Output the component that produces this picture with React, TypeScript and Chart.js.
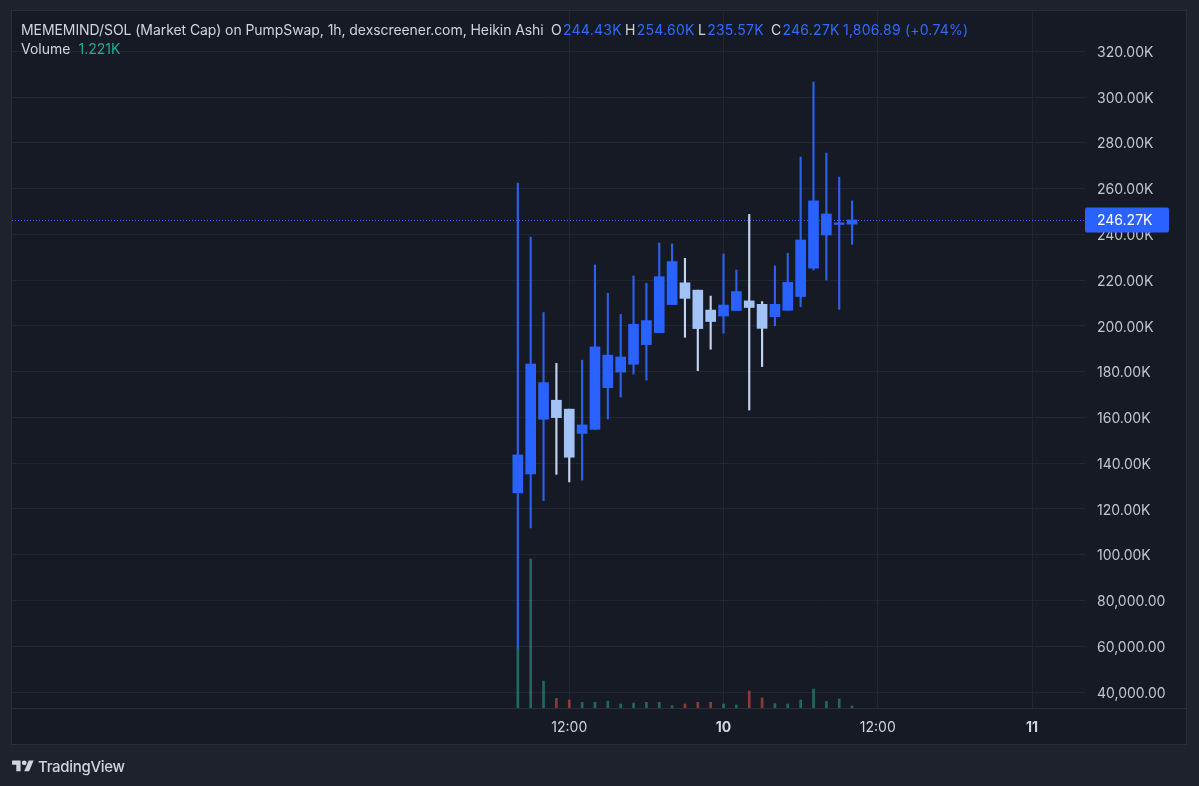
import React, { useEffect, useRef } from 'react';
import { Chart, registerables } from 'chart.js';

Chart.register(...registerables);

// ---- data (Heikin Ashi candles, 1h, market cap in K) ----
const hourIndex = [0, 1, 2, 3, 4, 5, 6, 7, 8, 9, 10, 11, 12, 13, 14, 15, 16, 17, 18, 19, 20, 21, 22, 23, 24, 25, 26];
const openK = [127.0, 135.3, 159.2, 167.5, 163.6, 153.0, 154.8, 173.0, 179.8, 183.2, 191.8, 197.0, 209.3, 218.8, 215.6, 206.9, 204.3, 206.7, 210.9, 209.4, 204.0, 206.8, 212.8, 225.2, 239.7, 244.3, 244.43];
const highK = [262.4, 238.8, 205.8, 183.6, 163.6, 185.0, 226.6, 214.2, 205.0, 221.8, 218.6, 236.2, 235.8, 229.5, 215.6, 213.0, 231.4, 224.4, 248.7, 210.6, 226.2, 231.7, 273.8, 306.6, 275.5, 265.0, 254.6];
const lowK = [59.2, 111.7, 123.6, 135.1, 131.8, 132.6, 154.8, 159.3, 168.9, 178.9, 176.3, 197.0, 209.3, 195.0, 180.4, 189.8, 196.8, 206.7, 163.2, 182.2, 200.0, 206.8, 208.4, 224.4, 220.0, 207.2, 235.57];
const closeK = [143.6, 183.3, 175.2, 159.9, 142.6, 156.7, 190.8, 187.2, 186.4, 200.7, 202.3, 221.5, 228.1, 212.0, 198.8, 201.9, 209.1, 215.0, 208.0, 198.9, 209.4, 219.0, 237.5, 254.6, 248.9, 245.0, 246.27];
const volume = [36000, 89400, 16200, 5800, 4800, 3400, 3400, 4200, 2400, 3000, 3400, 3400, 1400, 2400, 3400, 3400, 2400, 1800, 10200, 6000, 2600, 2400, 4800, 11400, 4000, 5400, 1221];

const timeTickValues = [4, 16, 28, 40];
const timeTickLabels = ['12:00', '10', '12:00', '11'];
const timeTickBold = [false, true, false, true];
const priceTickValues = [40000, 60000, 80000, 100000, 120000, 140000, 160000, 180000, 200000, 220000, 240000, 260000, 280000, 300000, 320000];

const titleText = 'MEMEMIND/SOL (Market Cap) on PumpSwap, 1h, dexscreener.com, Heikin Ashi';
const ohlcLabels = ['O', 'H', 'L', 'C'];
const ohlcValues = ['244.43K', '254.60K', '235.57K', '246.27K'];
const changeText = '1,806.89 (+0.74%)';
const volumeLabel = 'Volume';
const volumeValueText = '1.221K';
const lastPrice = 246270;
const lastPriceText = '246.27K';

const UP = '#2962ff';
const DOWN = '#a3c3f7';
const UP_WICK = '#2d60e8';
const DOWN_WICK = '#c3d2ee';
const VOL_UP = 'rgba(34,171,148,0.55)';
const VOL_DOWN = 'rgba(239,83,80,0.55)';

const FONT = 'Inter, "Noto Sans", sans-serif';

function fmtPrice(v: number): string {
  if (v >= 100000) return (v / 1000).toFixed(2) + 'K';
  return v.toLocaleString('en-US', { minimumFractionDigits: 2, maximumFractionDigits: 2 });
}

export default function App() {
  const ref = useRef<HTMLCanvasElement | null>(null);

  useEffect(() => {
    const canvas = ref.current;
    if (!canvas) return;
    const isUp = closeK.map((c, i) => c >= openK[i]);

    const framePlugin = {
      id: 'frame',
      afterLayout(chart: any) {
        const ys = chart.scales.y;
        if (ys && !ys.__shifted) {
          const orig = ys.drawLabels.bind(ys);
          ys.drawLabels = (area: any) => {
            const c = chart.ctx;
            c.save();
            c.translate(0, 1.5);
            orig(area);
            c.restore();
          };
          ys.__shifted = true;
        }
      },
      beforeDraw(chart: any) {
        const { ctx } = chart;
        ctx.save();
        ctx.fillStyle = '#1e222d';
        ctx.fillRect(0, 0, chart.width, chart.height);
        ctx.fillStyle = '#161a25';
        ctx.fillRect(11, 10, 1176, 735);
        ctx.strokeStyle = '#2a2e39';
        ctx.lineWidth = 1;
        ctx.strokeRect(11.5, 10.5, 1175, 734);
        ctx.beginPath();
        ctx.moveTo(11, 708.5);
        ctx.lineTo(1187, 708.5);
        ctx.stroke();
        ctx.restore();
      },
      beforeDatasetsDraw(chart: any) {
        const { ctx, chartArea } = chart;
        const y = Math.round(chart.scales.y.getPixelForValue(lastPrice)) + 0.5;
        ctx.save();
        ctx.strokeStyle = '#3366ff';
        ctx.lineWidth = 1;
        ctx.setLineDash([1, 2]);
        ctx.beginPath();
        ctx.moveTo(chartArea.left, y);
        ctx.lineTo(chartArea.right, y);
        ctx.stroke();
        ctx.restore();
      },
      afterDraw(chart: any) {
        const { ctx, chartArea } = chart;
        const y = chart.scales.y.getPixelForValue(lastPrice);
        ctx.save();
        ctx.fillStyle = '#2962ff';
        const x0 = chartArea.right;
        ctx.beginPath();
        (ctx as any).roundRect(x0, y - 12.5, 84, 25, 2);
        ctx.fill();
        ctx.fillStyle = '#ffffff';
        ctx.font = '14px ' + FONT;
        ctx.textBaseline = 'middle';
        ctx.textAlign = 'left';
        ctx.fillText(lastPriceText, x0 + 12, y + 1);
        ctx.restore();
      },
    };

    const chart = new Chart(canvas, {
      type: 'bar',
      data: {
        datasets: [
          {
            label: 'Volume',
            data: hourIndex.map((x, i) => ({ x, y: volume[i] })),
            yAxisID: 'yv',
            backgroundColor: isUp.map((u) => (u ? VOL_UP : VOL_DOWN)),
            barThickness: 2,
            grouped: false,
            order: 3,
          } as any,
          {
            label: 'Wick',
            data: hourIndex.map((x, i) => ({ x, y: [lowK[i] * 1000, highK[i] * 1000] })),
            yAxisID: 'y',
            backgroundColor: isUp.map((u) => (u ? UP_WICK : DOWN_WICK)),
            barThickness: 1.5,
            grouped: false,
            order: 2,
          } as any,
          {
            label: 'Body',
            data: hourIndex.map((x, i) => ({
              x,
              y: [Math.min(openK[i], closeK[i]) * 1000, Math.max(openK[i], closeK[i]) * 1000],
            })),
            yAxisID: 'y',
            backgroundColor: isUp.map((u) => (u ? UP : DOWN)),
            barThickness: 10,
            minBarLength: 1,
            grouped: false,
            order: 1,
          } as any,
        ],
      },
      options: {
        animation: false,
        responsive: false,
        devicePixelRatio: 1,
        layout: { padding: { left: 12, top: 11, right: 12, bottom: 41 } },
        plugins: { legend: { display: false }, tooltip: { enabled: false } },
        scales: {
          x: {
            type: 'linear',
            position: 'bottom',
            min: -39.35,
            max: 44.12,
            offset: false,
            afterBuildTicks: (scale: any) => {
              scale.ticks = timeTickValues.map((v) => ({ value: v }));
            },
            afterFit: (scale: any) => {
              scale.height = 37;
              scale.paddingLeft = 0;
              scale.paddingRight = 0;
            },
            ticks: {
              autoSkip: false,
              maxRotation: 0,
              padding: 11,
              color: '#d1d4dc',
              font: (ctx: any) => {
                const idx = timeTickValues.indexOf(ctx.tick ? ctx.tick.value : -1);
                return { family: FONT, size: 14, weight: idx >= 0 && timeTickBold[idx] ? 'bold' : 'normal' };
              },
              callback: (v: any) => {
                const idx = timeTickValues.indexOf(Number(v));
                return idx >= 0 ? timeTickLabels[idx] : '';
              },
            },
            grid: { color: '#222632', drawTicks: false, lineWidth: 1, offset: false },
            border: { display: false },
          },
          y: {
            type: 'linear',
            position: 'right',
            min: 33010,
            max: 337580,
            afterBuildTicks: (scale: any) => {
              scale.ticks = priceTickValues.map((v) => ({ value: v }));
            },
            afterFit: (scale: any) => {
              scale.width = 102;
              scale.paddingTop = 0;
              scale.paddingBottom = 0;
            },
            ticks: {
              padding: 12,
              color: '#c3c6ce',
              font: { family: FONT, size: 14 },
              callback: (v: any) => fmtPrice(Number(v)),
            },
            grid: { color: '#222632', drawTicks: false, lineWidth: 1 },
            border: { display: false },
          },
          yv: {
            type: 'linear',
            display: false,
            min: 0,
            max: 418200,
          },
        },
      } as any,
      plugins: [framePlugin],
    });
    return () => chart.destroy();
  }, []);

  const blue = '#2f6bff';
  const groupLeft = [551, 625, 698, 771];
  const textBase = {
    position: 'absolute' as const,
    fontFamily: FONT,
    fontSize: 14,
    lineHeight: '19px',
    color: '#d1d4dc',
    whiteSpace: 'nowrap' as const,
  };
  return (
    <div style={{ position: 'fixed', left: 0, top: 0, width: 1199, height: 786, background: '#1e222d', overflow: 'hidden' }}>
      <canvas ref={ref} width={1199} height={786} style={{ position: 'absolute', left: 0, top: 0, width: 1199, height: 786 }} />
      <div style={{ ...textBase, left: 21, top: 20, letterSpacing: -0.07 }}>{titleText}</div>
      {ohlcLabels.map((l, i) => (
        <div key={l} style={{ ...textBase, left: groupLeft[i], top: 20, letterSpacing: 0.25 }}>
          <span>{l}</span>
          <span style={{ color: blue, marginLeft: 1 }}>{ohlcValues[i]}</span>
        </div>
      ))}
      <div style={{ ...textBase, left: 843, top: 20, color: blue, letterSpacing: 0.2 }}>{changeText}</div>
      <div style={{ ...textBase, left: 21, top: 39 }}>
        <span>{volumeLabel}</span>
        <span style={{ color: '#22ab94', marginLeft: 8 }}>{volumeValueText}</span>
      </div>
      <div style={{ position: 'absolute', left: 12, top: 757, display: 'flex', alignItems: 'center', color: '#d1d4dc' }}>
        <svg width="22" height="17" viewBox="0 0 36 28" style={{ display: 'block' }}>
          <path d="M14 22H7V11H0V4h14v18z" fill="#d1d4dc" />
          <path d="M28 22h-8l7.5-18h8L28 22z" fill="#d1d4dc" />
          <circle cx="20" cy="8" r="4" fill="#d1d4dc" />
        </svg>
        <span style={{ marginLeft: 4, fontFamily: FONT, fontSize: 15, fontWeight: 500, letterSpacing: -0.3 }}>TradingView</span>
      </div>
    </div>
  );
}
